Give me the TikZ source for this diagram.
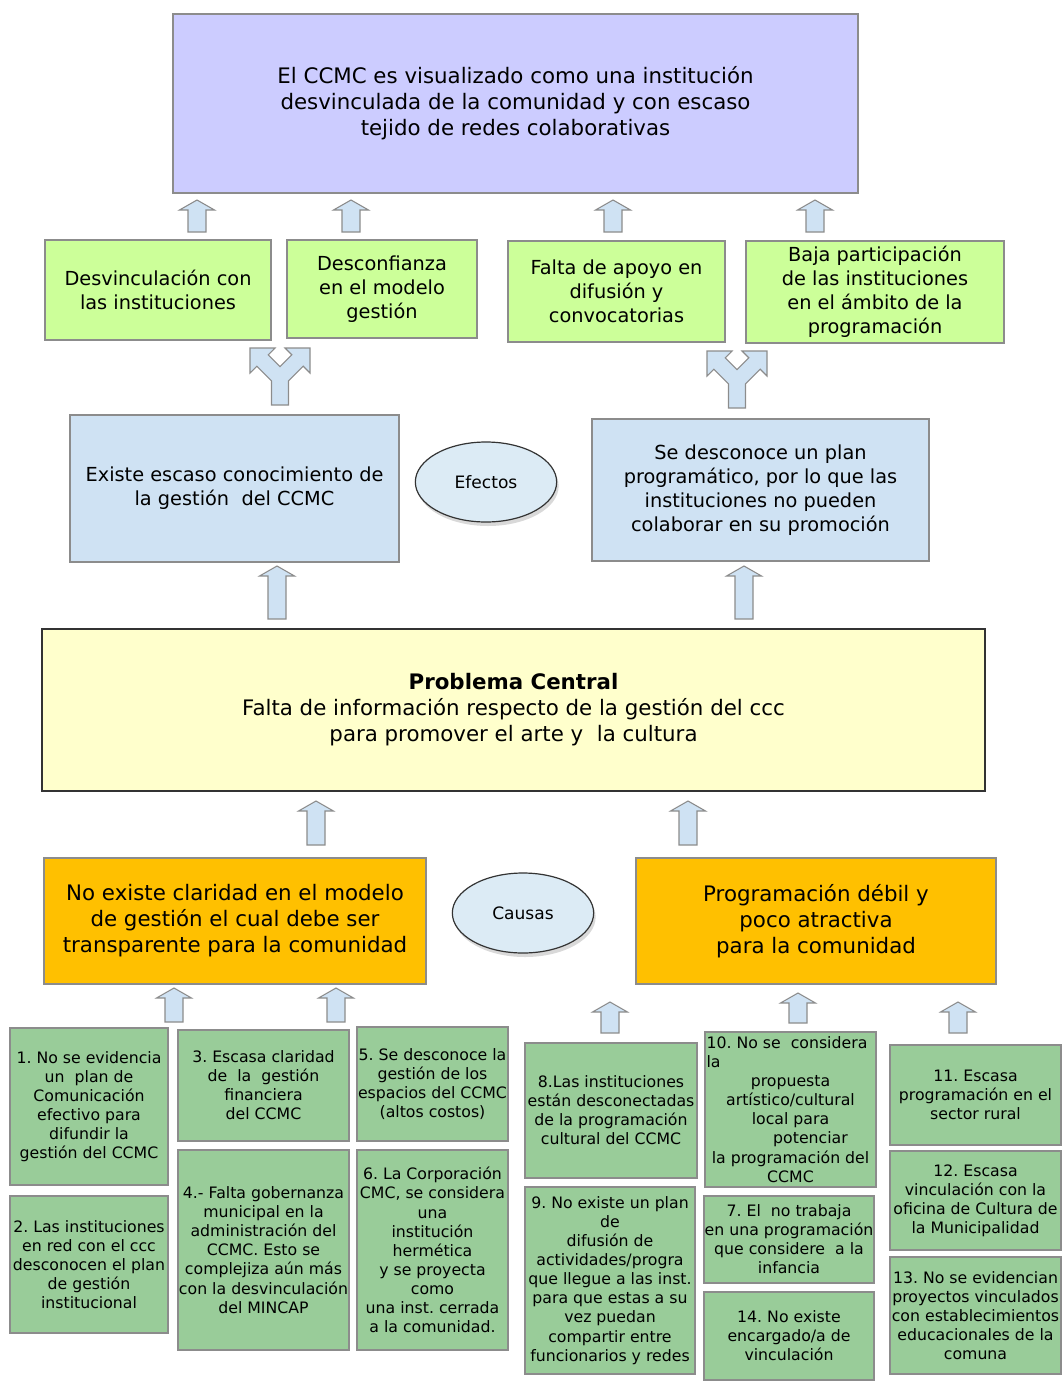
\documentclass[tikz,border=0pt]{standalone}
\usepackage{fontspec}
\setmainfont{DejaVu Sans}
\usetikzlibrary{shapes.geometric, shadows}
\frenchspacing

\definecolor{lila}{HTML}{CCCCFF}
\definecolor{verdeclaro}{HTML}{CCFF99}
\definecolor{celeste}{HTML}{CFE2F3}
\definecolor{ovalofill}{HTML}{DCEBF5}
\definecolor{amarillo}{HTML}{FFFFCC}
\definecolor{naranjo}{HTML}{FFC000}
\definecolor{verdecausa}{HTML}{99CC99}
\definecolor{borde}{HTML}{8C8C8C}

\newcommand{\fgrande}{\fontsize{16}{19.5}\selectfont}
\newcommand{\fmedia}{\fontsize{14.5}{18}\selectfont}
\newcommand{\fchica}{\fontsize{11.8}{14.3}\selectfont}
\newcommand{\fovalo}{\fontsize{12.8}{15}\selectfont}

\tikzset{
    caja/.style={draw=borde, line width=0.8pt, inner sep=0pt, align=center},
    tam/.style 2 args={minimum width=#1*0.75pt, minimum height=#2*0.75pt},
    efecto/.style={caja, fill=verdeclaro, font=\fmedia},
    azul/.style={caja, fill=celeste, font=\fmedia},
    naranja/.style={caja, fill=naranjo, font=\fgrande},
    chica/.style={caja, fill=verdecausa, font=\fchica},
    ovalo/.style={ellipse, draw=black!80, line width=0.9pt, fill=ovalofill,
        minimum width=106pt, minimum height=60pt, inner sep=0pt, font=\fovalo,
        drop shadow={shadow xshift=1.5pt, shadow yshift=-3pt, opacity=0.3}},
    flecha/.style={draw=borde, line width=0.8pt, fill=celeste, line join=miter}
}

\begin{document}
\begin{tikzpicture}[x=0.75pt, y=-0.75pt]
    \useasboundingbox (0,0) rectangle (1062,1382);

    % efecto final
    \node[caja, fill=lila, font=\fgrande, tam={685}{179}] (fin) at (515.5,103.5)
        {El CCMC es visualizado como una institución\\desvinculada de la comunidad y con escaso\\tejido de redes colaborativas};

    % efectos indirectos
    \node[efecto, tam={226}{100}] (e1) at (158,290) {Desvinculación con\\las instituciones};
    \node[efecto, tam={190}{98}] (e2) at (382,289) {Desconfianza\\en el modelo\\gestión};
    \node[efecto, tam={217}{101}] (e3) at (616.5,291.5) {Falta de apoyo en\\difusión y\\convocatorias};
    \node[efecto, tam={258}{102}] (e4) at (875,292) {Baja participación\\de las instituciones\\en el ámbito de la\\programación};

    % efectos directos
    \node[azul, tam={329}{147}] (d1) at (234.5,488.5) {Existe escaso conocimiento de\\la gestión\ \ del CCMC};
    \node[ovalo] (efectos) at (486,482) {Efectos};
    \node[azul, tam={337}{142}] (d2) at (760.5,490) {Se desconoce un plan\\programático, por lo que las\\instituciones no pueden\\colaborar en su promoción};

    % problema central
    \node[caja, fill=amarillo, draw=black!80, line width=1pt, font=\fgrande, tam={943}{162}] (pc) at (513.5,710)
        {\textbf{Problema Central}\\Falta de información respecto de la gestión del ccc\\para promover el arte y\ \ la cultura};

    % causas directas
    \node[naranja, tam={382}{126}] (c1) at (235,921) {No existe claridad en el modelo\\de gestión el cual debe ser\\transparente para la comunidad};
    \node[ovalo] (causas) at (523,913) {Causas};
    \node[naranja, tam={360}{126}] (c2) at (816,921) {Programación débil y\\poco atractiva\\para la comunidad};

    % causas secundarias
    \node[chica, tam={158}{157}] (s1) at (89,1106.5) {1. No se evidencia\\un\ \ plan de\\Comunicación\\efectivo para\\difundir la\\gestión del CCMC};
    \node[chica, tam={158}{137}] (s2) at (89,1264.5) {2. Las instituciones\\en red con el ccc\\desconocen el plan\\de gestión\\institucional};
    \node[chica, tam={171}{111}] (s3) at (263.5,1085.5) {3. Escasa claridad\\de\ \ la\ \ gestión\\financiera\\del CCMC};
    \node[chica, tam={171}{200}] (s4) at (263.5,1250) {4.- Falta gobernanza\\municipal en la\\administración del\\CCMC. Esto se\\complejiza aún más\\con la desvinculación\\del MINCAP};
    \node[chica, tam={151}{114}] (s5) at (432.5,1084) {5. Se desconoce la\\gestión de los\\espacios del CCMC\\(altos costos)};
    \node[chica, tam={151}{200}] (s6) at (432.5,1250) {6. La Corporación\\CMC, se considera\\una\\institución\\hermética\\y se proyecta\\como\\una inst. cerrada\\a la comunidad.};
    \node[chica, tam={172}{135}] (s8) at (611,1110.5) {8.Las instituciones\\están desconectadas\\de la programación\\cultural del CCMC};
    \node[chica, tam={170}{187}] (s9) at (610,1280.5) {9. No existe un plan\\de\\difusión de\\actividades/progra\\que llegue a las inst.\\para que estas a su\\vez puedan\\compartir entre\\funcionarios y redes};
    \node[chica, tam={171}{155}] (s10) at (790.5,1109.5) {\makebox[126pt][l]{10. No se\ \ considera}\\\makebox[126pt][l]{la}\\propuesta\\artístico/cultural\\local para\\\hspace*{30pt}potenciar\\la programación del\\CCMC};
    \node[chica, tam={170}{87}] (s7) at (789,1239.5) {7. El\ \ no trabaja\\en una programación\\que considere\ \ a la\\infancia};
    \node[chica, tam={170}{88}] (s14) at (789,1336) {14. No existe\\encargado/a de\\vinculación};
    \node[chica, tam={171}{100}] (s11) at (975.5,1095) {11. Escasa\\programación en el\\sector rural};
    \node[chica, tam={171}{99}] (s12) at (975.5,1200.5) {12. Escasa\\vinculación con la\\oficina de Cultura de\\la Municipalidad};
    \node[chica, tam={171}{117}] (s13) at (975.5,1315.5) {13. No se evidencian\\proyectos vinculados\\con establecimientos\\educacionales de la\\comuna};

    % flechas de bloque
    \foreach \x/\yb/\yt in {197/232/200, 351/232/200, 613/232/200, 815/232/200,
                            277/619/566, 744/619/566, 316/845/801, 688/845/801,
                            174/1022/988, 336/1022/988, 610/1033/1002, 798/1023/993, 958/1033/1002} {
        \draw[flecha] (\x-9,\yb) -- (\x-9,\yt+10) -- (\x-17.5,\yt+10) -- (\x,\yt)
            -- (\x+17.5,\yt+10) -- (\x+9,\yt+10) -- (\x+9,\yb) -- cycle;
    }

    % flechas divididas
    \foreach \cx/\by in {280/405, 737/408} {
        \draw[flecha] (\cx-8.5,\by) -- (\cx-8.5,\by-24.2) -- (\cx-23.2,\by-38.8) -- (\cx-30,\by-32)
            -- (\cx-30,\by-57) -- (\cx-5,\by-57) -- (\cx-11.8,\by-50.2) -- (\cx,\by-38.3)
            -- (\cx+11.8,\by-50.2) -- (\cx+5,\by-57) -- (\cx+30,\by-57) -- (\cx+30,\by-32)
            -- (\cx+23.2,\by-38.8) -- (\cx+8.5,\by-24.2) -- (\cx+8.5,\by) -- cycle;
    }
\end{tikzpicture}
\end{document}
